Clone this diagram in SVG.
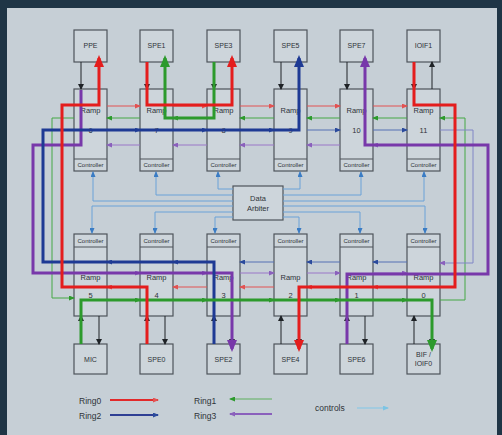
<svg xmlns="http://www.w3.org/2000/svg" width="502" height="435" viewBox="0 0 502 435">
<defs>
<style>
.box{fill:#cdd5db;stroke:#4e545a;stroke-width:1.2}
.dv{stroke:#4e545a;stroke-width:1.2}
.t{font-family:"Liberation Sans",Arial,sans-serif;font-size:7px;fill:#2e3338;text-anchor:middle}
.ct{font-size:6px}
.rt{font-size:7.5px}
.lg{font-family:"Liberation Sans",Arial,sans-serif;font-size:8.5px;fill:#2e3338}
.k{stroke:#1e2226;stroke-width:1;fill:none;marker-end:url(#mk)}
.r{stroke:#e25252;stroke-width:1;fill:none;marker-end:url(#mr)}
.g{stroke:#44a844;stroke-width:1;fill:none;marker-end:url(#mg)}
.b{stroke:#5470b4;stroke-width:1;fill:none;marker-end:url(#mb)}
.p{stroke:#9a76c8;stroke-width:1;fill:none;marker-end:url(#mp)}
.c{stroke:#6aa2d8;stroke-width:1;fill:none;marker-end:url(#mc)}
.R{stroke:#e41d1d;stroke-width:3;fill:none;marker-end:url(#MR)}
.G{stroke:#2c9a2c;stroke-width:3;fill:none;marker-end:url(#MG)}
.B{stroke:#1e3a94;stroke-width:3;fill:none;marker-end:url(#MB)}
.P{stroke:#7838aa;stroke-width:3;fill:none;marker-end:url(#MP)}
</style>
<marker id="mk" markerUnits="userSpaceOnUse" markerWidth="6" markerHeight="6" refX="5" refY="3" orient="auto"><path d="M0,0L6,3L0,6z" fill="#1e2226"/></marker>
<marker id="mr" markerUnits="userSpaceOnUse" markerWidth="6" markerHeight="5" refX="5" refY="2.5" orient="auto"><path d="M0,0L6,2.5L0,5z" fill="#e25252"/></marker>
<marker id="mg" markerUnits="userSpaceOnUse" markerWidth="6" markerHeight="5" refX="5" refY="2.5" orient="auto"><path d="M0,0L6,2.5L0,5z" fill="#2c9a2c"/></marker>
<marker id="mb" markerUnits="userSpaceOnUse" markerWidth="6" markerHeight="5" refX="5" refY="2.5" orient="auto"><path d="M0,0L6,2.5L0,5z" fill="#2a4a9c"/></marker>
<marker id="mp" markerUnits="userSpaceOnUse" markerWidth="6" markerHeight="5" refX="5" refY="2.5" orient="auto"><path d="M0,0L6,2.5L0,5z" fill="#8a60bc"/></marker>
<marker id="mc" markerUnits="userSpaceOnUse" markerWidth="6" markerHeight="5" refX="5" refY="2.5" orient="auto"><path d="M0,0L6,2.5L0,5z" fill="#3a7cc4"/></marker>
<marker id="ml" markerUnits="userSpaceOnUse" markerWidth="6" markerHeight="5" refX="5" refY="2.5" orient="auto"><path d="M0,0L6,2.5L0,5z" fill="#7cc4e4"/></marker>
<marker id="MR" markerUnits="userSpaceOnUse" markerWidth="12" markerHeight="10" refX="9" refY="5" orient="auto"><path d="M0,0L12,5L0,10z" fill="#e41d1d"/></marker>
<marker id="MG" markerUnits="userSpaceOnUse" markerWidth="12" markerHeight="10" refX="9" refY="5" orient="auto"><path d="M0,0L12,5L0,10z" fill="#2c9a2c"/></marker>
<marker id="MB" markerUnits="userSpaceOnUse" markerWidth="12" markerHeight="10" refX="9" refY="5" orient="auto"><path d="M0,0L12,5L0,10z" fill="#1e3a94"/></marker>
<marker id="MP" markerUnits="userSpaceOnUse" markerWidth="12" markerHeight="10" refX="9" refY="5" orient="auto"><path d="M0,0L12,5L0,10z" fill="#7838aa"/></marker>
</defs>
<rect x="0" y="0" width="502" height="435" fill="#1f3546"/>
<rect x="7" y="8" width="490" height="427" fill="#c6cfd6"/>

<g id="PPE"><rect class="box" x="74" y="30" width="33" height="32"/><text class="t" x="90.5" y="48">PPE</text></g>
<g id="SPE1"><rect class="box" x="140" y="30" width="33" height="32"/><text class="t" x="156.5" y="48">SPE1</text></g>
<g id="SPE3"><rect class="box" x="207" y="30" width="33" height="32"/><text class="t" x="223.5" y="48">SPE3</text></g>
<g id="SPE5"><rect class="box" x="274" y="30" width="33" height="32"/><text class="t" x="290.5" y="48">SPE5</text></g>
<g id="SPE7"><rect class="box" x="340" y="30" width="33" height="32"/><text class="t" x="356.5" y="48">SPE7</text></g>
<g id="IOIF1"><rect class="box" x="407" y="30" width="33" height="32"/><text class="t" x="423.5" y="48">IOIF1</text></g>

<g id="ramp6"><rect class="box" x="74" y="89" width="33" height="82"/><line class="dv" x1="74" y1="159" x2="107" y2="159"/><text class="t rt" x="90.5" y="113">Ramp</text><text class="t rt" x="90.5" y="133">6</text><text class="t ct" x="90.5" y="167">Controller</text></g>
<g id="ramp7"><rect class="box" x="140" y="89" width="33" height="82"/><line class="dv" x1="140" y1="159" x2="173" y2="159"/><text class="t rt" x="156.5" y="113">Ramp</text><text class="t rt" x="156.5" y="133">7</text><text class="t ct" x="156.5" y="167">Controller</text></g>
<g id="ramp8"><rect class="box" x="207" y="89" width="33" height="82"/><line class="dv" x1="207" y1="159" x2="240" y2="159"/><text class="t rt" x="223.5" y="113">Ramp</text><text class="t rt" x="223.5" y="133">8</text><text class="t ct" x="223.5" y="167">Controller</text></g>
<g id="ramp9"><rect class="box" x="274" y="89" width="33" height="82"/><line class="dv" x1="274" y1="159" x2="307" y2="159"/><text class="t rt" x="290.5" y="113">Ramp</text><text class="t rt" x="290.5" y="133">9</text><text class="t ct" x="290.5" y="167">Controller</text></g>
<g id="ramp10"><rect class="box" x="340" y="89" width="33" height="82"/><line class="dv" x1="340" y1="159" x2="373" y2="159"/><text class="t rt" x="356.5" y="113">Ramp</text><text class="t rt" x="356.5" y="133">10</text><text class="t ct" x="356.5" y="167">Controller</text></g>
<g id="ramp11"><rect class="box" x="407" y="89" width="33" height="82"/><line class="dv" x1="407" y1="159" x2="440" y2="159"/><text class="t rt" x="423.5" y="113">Ramp</text><text class="t rt" x="423.5" y="133">11</text><text class="t ct" x="423.5" y="167">Controller</text></g>

<g id="arbiter"><rect class="box" x="233" y="186" width="50" height="34"/><text class="t rt" x="258" y="201">Data</text><text class="t rt" x="258" y="211">Arbiter</text></g>

<g id="ramp5"><rect class="box" x="74" y="234" width="33" height="82"/><line class="dv" x1="74" y1="247" x2="107" y2="247"/><text class="t ct" x="90.5" y="243">Controller</text><text class="t rt" x="90.5" y="280">Ramp</text><text class="t rt" x="90.5" y="298">5</text></g>
<g id="ramp4"><rect class="box" x="140" y="234" width="33" height="82"/><line class="dv" x1="140" y1="247" x2="173" y2="247"/><text class="t ct" x="156.5" y="243">Controller</text><text class="t rt" x="156.5" y="280">Ramp</text><text class="t rt" x="156.5" y="298">4</text></g>
<g id="ramp3"><rect class="box" x="207" y="234" width="33" height="82"/><line class="dv" x1="207" y1="247" x2="240" y2="247"/><text class="t ct" x="223.5" y="243">Controller</text><text class="t rt" x="223.5" y="280">Ramp</text><text class="t rt" x="223.5" y="298">3</text></g>
<g id="ramp2"><rect class="box" x="274" y="234" width="33" height="82"/><line class="dv" x1="274" y1="247" x2="307" y2="247"/><text class="t ct" x="290.5" y="243">Controller</text><text class="t rt" x="290.5" y="280">Ramp</text><text class="t rt" x="290.5" y="298">2</text></g>
<g id="ramp1"><rect class="box" x="340" y="234" width="33" height="82"/><line class="dv" x1="340" y1="247" x2="373" y2="247"/><text class="t ct" x="356.5" y="243">Controller</text><text class="t rt" x="356.5" y="280">Ramp</text><text class="t rt" x="356.5" y="298">1</text></g>
<g id="ramp0"><rect class="box" x="407" y="234" width="33" height="82"/><line class="dv" x1="407" y1="247" x2="440" y2="247"/><text class="t ct" x="423.5" y="243">Controller</text><text class="t rt" x="423.5" y="280">Ramp</text><text class="t rt" x="423.5" y="298">0</text></g>

<g id="MIC"><rect class="box" x="74" y="344" width="33" height="30"/><text class="t" x="90.5" y="362">MIC</text></g>
<g id="SPE0"><rect class="box" x="140" y="344" width="33" height="30"/><text class="t" x="156.5" y="362">SPE0</text></g>
<g id="SPE2"><rect class="box" x="207" y="344" width="33" height="30"/><text class="t" x="223.5" y="362">SPE2</text></g>
<g id="SPE4"><rect class="box" x="274" y="344" width="33" height="30"/><text class="t" x="290.5" y="362">SPE4</text></g>
<g id="SPE6"><rect class="box" x="340" y="344" width="33" height="30"/><text class="t" x="356.5" y="362">SPE6</text></g>
<g id="BIF"><rect class="box" x="407" y="344" width="33" height="30"/><text class="t" x="423.5" y="357">BIF /</text><text class="t" x="423.5" y="366">IOIF0</text></g>

<g id="connectors">
<path class="c" d="M233,189H218V172"/>
<path class="c" d="M233,195H156V172"/>
<path class="c" d="M233,201H93V172"/>
<path class="c" d="M233,206H92V233"/>
<path class="c" d="M233,212H155V233"/>
<path class="c" d="M233,217H215V233"/>
<path class="c" d="M283,189H300V172"/>
<path class="c" d="M283,195H361V172"/>
<path class="c" d="M283,201H424V172"/>
<path class="c" d="M283,206H425V233"/>
<path class="c" d="M283,212H360V233"/>
<path class="c" d="M283,217H299V233"/>
<path class="r" d="M107,106H140"/><path class="r" d="M173,106H207"/><path class="r" d="M240,106H274"/><path class="r" d="M307,106H340"/><path class="r" d="M373,106H407"/>
<path class="g" d="M140,118H107"/><path class="g" d="M207,118H173"/><path class="g" d="M274,118H240"/><path class="g" d="M340,118H307"/><path class="g" d="M407,118H373"/>
<path class="b" d="M107,130H140"/><path class="b" d="M173,130H207"/><path class="b" d="M240,130H274"/><path class="b" d="M307,130H340"/><path class="b" d="M373,130H407"/>
<path class="p" d="M140,145H107"/><path class="p" d="M207,145H173"/><path class="p" d="M274,145H240"/><path class="p" d="M340,145H307"/><path class="p" d="M407,145H373"/>
<path class="b" d="M140,262H107"/><path class="b" d="M207,262H173"/><path class="b" d="M274,262H240"/><path class="b" d="M340,262H307"/><path class="b" d="M407,262H373"/>
<path class="p" d="M107,273H140"/><path class="p" d="M173,273H207"/><path class="p" d="M240,273H274"/><path class="p" d="M307,273H340"/><path class="p" d="M373,273H407"/>
<path class="r" d="M140,287H107"/><path class="r" d="M207,287H173"/><path class="r" d="M274,287H240"/><path class="r" d="M340,287H307"/><path class="r" d="M407,287H373"/>
<path class="g" d="M107,300H140"/><path class="g" d="M173,300H207"/><path class="g" d="M240,300H274"/><path class="g" d="M307,300H340"/><path class="g" d="M373,300H407"/>
<path class="g" d="M440,300H465V118H440"/>
<path class="g" d="M74,118H52V298H74"/>
<path style="stroke:#8086c6;stroke-width:1;fill:none;marker-end:url(#mp)" d="M440,130H473V263H440"/>
<path class="k" d="M81,62V89"/><path class="k" d="M99,89V62"/>
<path class="k" d="M147,62V89"/><path class="k" d="M165,89V62"/>
<path class="k" d="M214,62V89"/><path class="k" d="M232,89V62"/>
<path class="k" d="M281,62V89"/><path class="k" d="M299,89V62"/>
<path class="k" d="M347,62V89"/><path class="k" d="M365,89V62"/>
<path class="k" d="M414,62V89"/><path class="k" d="M432,89V62"/>
<path class="k" d="M81,344V316"/><path class="k" d="M99,316V344"/>
<path class="k" d="M147,344V316"/><path class="k" d="M165,316V344"/>
<path class="k" d="M214,344V316"/><path class="k" d="M232,316V344"/>
<path class="k" d="M281,344V316"/><path class="k" d="M299,316V344"/>
<path class="k" d="M347,344V316"/><path class="k" d="M365,316V344"/>
<path class="k" d="M414,344V316"/><path class="k" d="M432,316V344"/>
<path class="P" d="M81,90V145H33V273H232V349"/>
<path class="P" d="M347,344V274H488V145H365V58"/>
<path class="B" d="M214,344V262H43V130H299V58"/>
<path class="G" d="M214,62V118H165V58"/>
<path class="G" d="M81,344V300H432V349"/>
<path class="R" d="M147,344V287H62V105H99V58"/>
<path class="R" d="M147,62V105H232V58"/>
<path class="R" d="M414,62V105H455V287H299V349"/>
</g>

<g id="legend">
<text class="lg" x="79" y="404">Ring0</text>
<text class="lg" x="79" y="419">Ring2</text>
<text class="lg" x="194" y="404">Ring1</text>
<text class="lg" x="194" y="419">Ring3</text>
<text class="lg" x="315" y="411">controls</text>
<path d="M110,400H158" stroke="#e22a2a" stroke-width="1.8" fill="none" marker-end="url(#mr)"/>
<path d="M110,415H158" stroke="#2e3f94" stroke-width="1.8" fill="none" marker-end="url(#mb)"/>
<path d="M272,399H230" stroke="#5cb05c" stroke-width="1.2" fill="none" marker-end="url(#mg)"/>
<path d="M272,414H230" stroke="#8a60bc" stroke-width="1.8" fill="none" marker-end="url(#mp)"/>
<path d="M357,408H388" stroke="#8cc8e4" stroke-width="1.2" fill="none" marker-end="url(#ml)"/>
</g>
</svg>
